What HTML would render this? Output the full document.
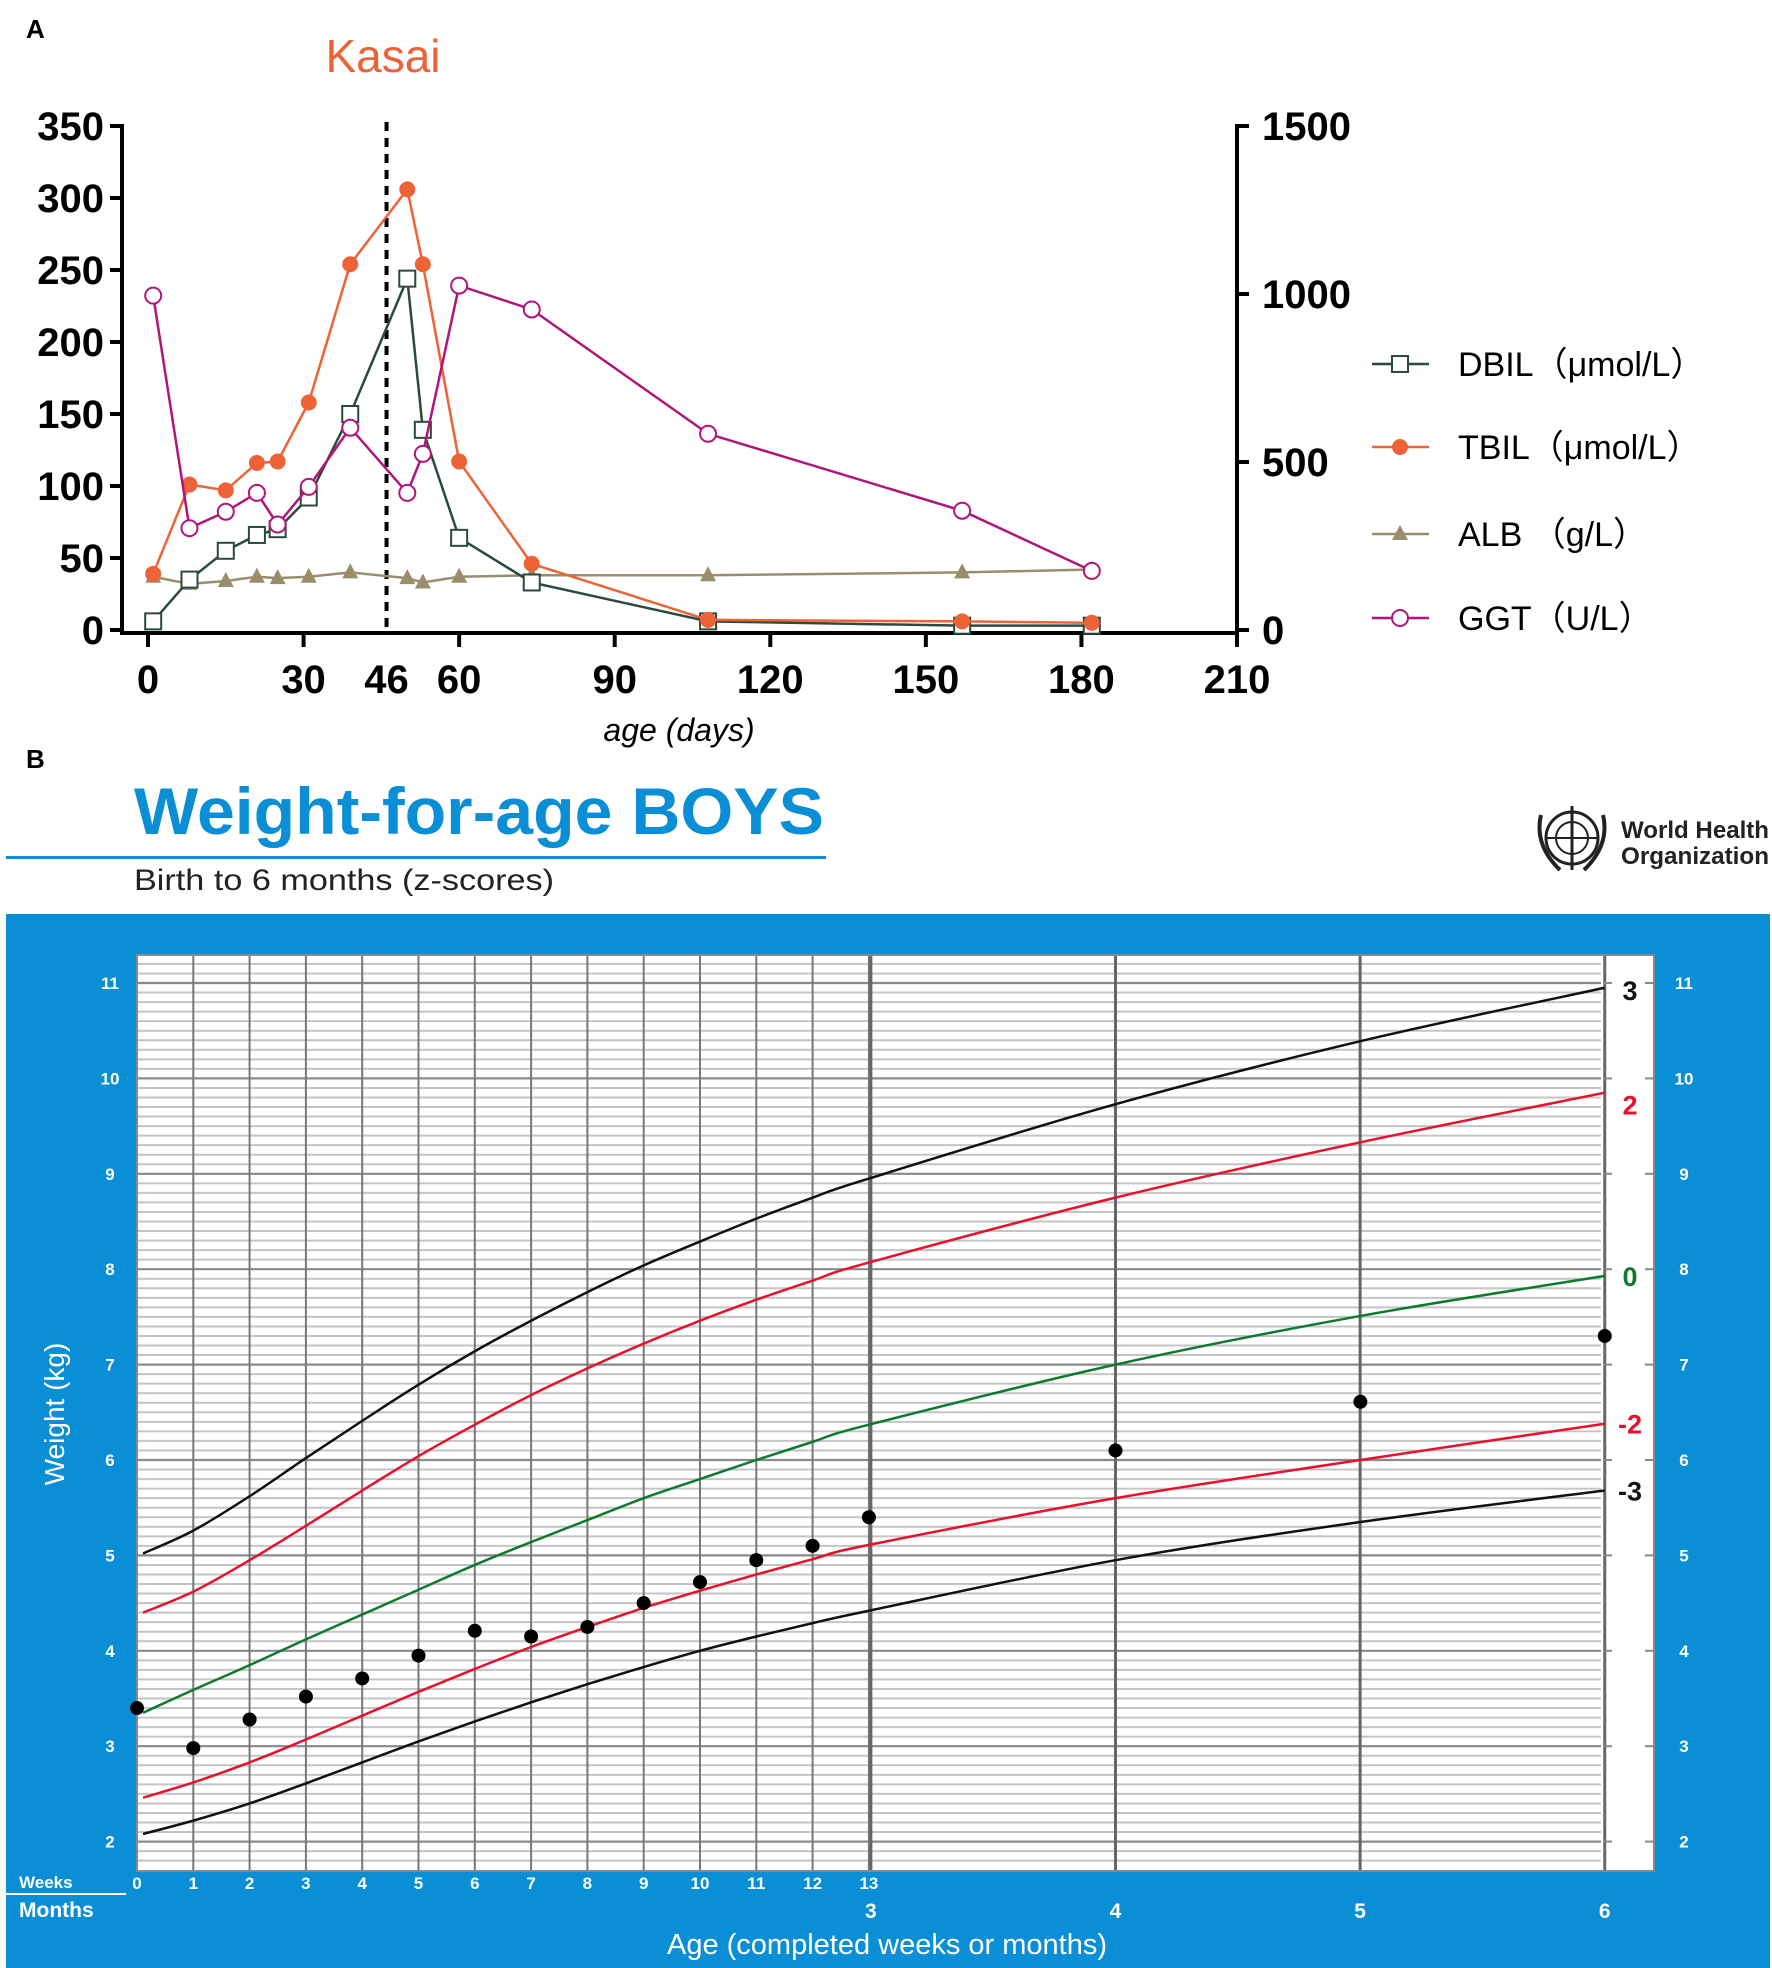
<!DOCTYPE html>
<html><head><meta charset="utf-8">
<style>
html,body{margin:0;padding:0;background:#fff;}
svg{display:block;font-family:"Liberation Sans",Arial,sans-serif;}
</style></head>
<body>
<svg id="root" width="1772" height="1968" viewBox="0 0 1772 1968" xmlns="http://www.w3.org/2000/svg">
<text x="26" y="38" font-size="26" font-weight="bold">A</text>
<text x="383" y="72" font-size="46" fill="#ee6237" text-anchor="middle">Kasai</text>
<g id="chartA"></g>
<text x="679" y="741" font-size="32" font-style="italic" text-anchor="middle">age (days)</text>
<g id="legendA"></g>

<text x="26" y="768" font-size="26" font-weight="bold">B</text>
<text x="134" y="834" font-size="66" font-weight="bold" fill="#0a8fd6" textLength="690" lengthAdjust="spacingAndGlyphs">Weight-for-age BOYS</text>
<rect x="6" y="856" width="820" height="3" fill="#0a8fd6"/>
<text x="134" y="890" font-size="30" fill="#222" textLength="420" lengthAdjust="spacingAndGlyphs">Birth to 6 months (z-scores)</text>
<g>
  <circle cx="1572" cy="838" r="26" fill="none" stroke="#222" stroke-width="3"/>
  <circle cx="1572" cy="838" r="16" fill="none" stroke="#222" stroke-width="2"/>
  <line x1="1546" y1="838" x2="1598" y2="838" stroke="#222" stroke-width="2"/>
  <line x1="1572" y1="806" x2="1572" y2="870" stroke="#222" stroke-width="3"/>
  <path d="M1541 815 Q1534 845 1560 870 M1603 815 Q1610 845 1584 870" fill="none" stroke="#222" stroke-width="4"/>
  <text x="1621" y="838" font-size="24" font-weight="bold" fill="#222" textLength="148" lengthAdjust="spacingAndGlyphs">World Health</text>
  <text x="1621" y="864" font-size="24" font-weight="bold" fill="#222" textLength="148" lengthAdjust="spacingAndGlyphs">Organization</text>
</g>
<rect x="6" y="914" width="1764" height="1054" fill="#0a8fd6"/>
<rect x="137" y="955" width="1517" height="916" fill="#fff"/>
<g id="chartB"></g>
<text transform="translate(64,1414) rotate(-90)" font-size="28" fill="#fff" text-anchor="middle">Weight (kg)</text>
<text x="19" y="1888" font-size="17" font-weight="bold" fill="#fff">Weeks</text>
<rect x="6" y="1893" width="120" height="2" fill="#fff"/>
<text x="19" y="1917" font-size="21" font-weight="bold" fill="#fff">Months</text>
<text x="887" y="1954" font-size="29" fill="#fff" text-anchor="middle">Age (completed weeks or months)</text>
</svg>
<script>
const days = [1,8,15,21,25,31,39,50,53,60,74,108,157,182];
const dbil = [6,35,55,66,70,92,150,244,139,64,33,6,3,3];
const tbil = [39,101,97,116,117,158,254,306,254,117,46,7,6,5];
const alb  = [37,32,34,37,36,37,40,36,33,37,38,38,40,42];
const ggt  = [995,303,352,408,314,426,602,408,524,1025,954,584,355,176];
const leftTicks = [0,50,100,150,200,250,300,350];
const rightTicks = [0,500,1000,1500];
const xTicks = [0,30,60,90,120,150,180,210];
const kasaiDay = 46;

const NS = "http://www.w3.org/2000/svg";
function mk(tag, attrs, parent){ const e=document.createElementNS(NS,tag); for(const k in attrs) e.setAttribute(k,attrs[k]); parent.appendChild(e); return e; }

const xA = d => 148 + d*(1237-148)/210;
const yL = v => 630 - v*(504/350);
const yR = v => 630 - v*(504/1500);
const gA = document.getElementById('chartA');

let ax = mk('line',{x1:122,y1:124,x2:122,y2:635,stroke:'#000','stroke-width':4},gA);
 
ax = mk('line',{x1:1237,y1:124,x2:1237,y2:635,stroke:'#000','stroke-width':4},gA);
 
ax = mk('line',{x1:120,y1:633,x2:1239,y2:633,stroke:'#000','stroke-width':4},gA);
 

leftTicks.forEach(v=>{
  const t=mk('line',{x1:110,y1:yL(v),x2:122,y2:yL(v),stroke:'#000','stroke-width':4},gA);
   
  const l=mk('text',{x:104,y:yL(v)+14,'font-size':40,'font-weight':'bold','text-anchor':'end'},gA);
  l.textContent=v;
   
});
rightTicks.forEach(v=>{
  const t=mk('line',{x1:1237,y1:yR(v),x2:1249,y2:yR(v),stroke:'#000','stroke-width':4},gA);
   
  const l=mk('text',{x:1262,y:yR(v)+14,'font-size':40,'font-weight':'bold'},gA);
  l.textContent=v;
   
});
xTicks.concat([kasaiDay]).forEach(v=>{
  if(v!==kasaiDay){
    const t=mk('line',{x1:xA(v),y1:633,x2:xA(v),y2:647,stroke:'#000','stroke-width':4},gA);
     
  }
  const l=mk('text',{x:xA(v),y:693,'font-size':40,'font-weight':'bold','text-anchor':'middle'},gA);
  l.textContent=v;
   
});
const kl = mk('line',{x1:xA(kasaiDay),y1:122,x2:xA(kasaiDay),y2:633,stroke:'#000','stroke-width':4,'stroke-dasharray':'9,7'},gA);
 

function marker(type,x,y,color,g){
  let e;
  if(type==='square') e=mk('rect',{x:x-8,y:y-8,width:16,height:16,fill:'#fff',stroke:color,'stroke-width':2},g);
  else if(type==='dot') e=mk('circle',{cx:x,cy:y,r:8,fill:color},g);
  else if(type==='tri') e=mk('path',{d:`M${x} ${y-9} L${x+8} ${y+6} L${x-8} ${y+6} Z`,fill:color},g);
  else e=mk('circle',{cx:x,cy:y,r:8,fill:'#fff',stroke:color,'stroke-width':2},g);
  return e;
}
const seriesA = [
  {name:'alb',vals:alb,color:'#998e6c',m:'tri',y:yL},
  {name:'dbil',vals:dbil,color:'#2c4a3c',m:'square',y:yL},
  {name:'tbil',vals:tbil,color:'#ee6237',m:'dot',y:yL},
  {name:'ggt',vals:ggt,color:'#b0157a',m:'ring',y:yR},
];
seriesA.forEach(s=>{
  const g=mk('g',{},gA);
   
  const pts=days.map((d,i)=>xA(d)+','+s.y(s.vals[i])).join(' ');
  const pl=mk('polyline',{points:pts,fill:'none',stroke:s.color,'stroke-width':2.5},g);
   
  days.forEach((d,i)=>{
    const p=marker(s.m,xA(d),s.y(s.vals[i]),s.color,g);
     
  });
});
const legendItems = [
  {label:'DBIL（μmol/L）',color:'#2c4a3c',m:'square',y:364},
  {label:'TBIL（μmol/L）',color:'#ee6237',m:'dot',y:447},
  {label:'ALB （g/L）',color:'#998e6c',m:'tri',y:534},
  {label:'GGT（U/L）',color:'#b0157a',m:'ring',y:618},
];
const gL=document.getElementById('legendA');
legendItems.forEach(it=>{
  const g=mk('g',{},gL);
   
  mk('line',{x1:1372,y1:it.y,x2:1429,y2:it.y,stroke:it.color,'stroke-width':2.5},g);
  marker(it.m,1400,it.y,it.color,g);
  const t=mk('text',{x:1458,y:it.y+12,'font-size':34},g);
  t.textContent=it.label;
});

// ---------- Panel B data ----------
const curveWeeks = [0,1,2,3,4,5,6,7,8,9,10,11,12,13,17.38,21.73,26.07];
const zNeg3 = [2.08,2.22,2.40,2.61,2.83,3.05,3.26,3.46,3.65,3.83,4.00,4.15,4.29,4.42,4.95,5.35,5.68];
const zNeg2 = [2.46,2.62,2.83,3.07,3.32,3.57,3.81,4.04,4.25,4.45,4.63,4.80,4.96,5.11,5.60,6.00,6.38];
const zMed  = [3.35,3.59,3.85,4.12,4.38,4.64,4.90,5.14,5.37,5.60,5.80,6.00,6.19,6.37,7.00,7.51,7.93];
const zPos2 = [4.40,4.62,4.95,5.31,5.68,6.04,6.37,6.68,6.96,7.22,7.46,7.68,7.88,8.07,8.75,9.33,9.85];
const zPos3 = [5.02,5.26,5.62,6.02,6.41,6.79,7.14,7.46,7.76,8.04,8.29,8.53,8.75,8.95,9.73,10.39,10.95];
const patientWeeks = [0,1,2,3,4,5,6,7,8,9,10,11,12,13,17.38,21.73,26.07];
const patientKg = [3.40,2.98,3.28,3.52,3.71,3.95,4.21,4.15,4.25,4.50,4.72,4.95,5.10,5.40,6.10,6.61,7.30];
const kgTicks = [2,3,4,5,6,7,8,9,10,11];
const weekTicks = [0,1,2,3,4,5,6,7,8,9,10,11,12,13];
const monthTicks = [3,4,5,6];
const zLabels = ['3','2','0','-2','-3'];

const xB = w => 137 + w*56.3;
const yB = kg => 983 + (11-kg)*95.4;
const mX = m => xB(m*4.345);
const gB=document.getElementById('chartB');

for(let k=17; k<=113; k++){
  const kg=k/10, y=yB(kg);
  if(y<957||y>1870) continue;
  const major = (k%10===0);
  const l=mk('line',{x1:137,y1:y,x2:1601,y2:y,stroke:major?'#8a8a8a':'#c4c4c4','stroke-width':major?2.2:2},gB);
   
}
weekTicks.forEach(w=>{
  const l=mk('line',{x1:xB(w),y1:955,x2:xB(w),y2:1871,stroke:'#777','stroke-width':2},gB);
   
});
monthTicks.forEach(m=>{
  const l=mk('line',{x1:mX(m),y1:955,x2:mX(m),y2:1871,stroke:'#666','stroke-width':3},gB);
   
});
const fr=mk('rect',{x:137,y:955,width:1517,height:916,fill:'none',stroke:'#888','stroke-width':2},gB);
 

kgTicks.forEach(k=>{
  const a=mk('text',{x:110,y:yB(k)+6,'font-size':17,'font-weight':'bold',fill:'#fff','text-anchor':'middle'},gB);
  a.textContent=k;  
  const b=mk('text',{x:1684,y:yB(k)+6,'font-size':17,'font-weight':'bold',fill:'#fff','text-anchor':'middle'},gB);
  b.textContent=k;  
  const t1=mk('line',{x1:1604,y1:yB(k),x2:1612,y2:yB(k),stroke:'#888','stroke-width':2},gB);
   
  const t2=mk('line',{x1:1645,y1:yB(k),x2:1654,y2:yB(k),stroke:'#888','stroke-width':2},gB);
   
});
weekTicks.forEach(w=>{
  const t=mk('text',{x:xB(w),y:1889,'font-size':17,'font-weight':'bold',fill:'#fff','text-anchor':'middle'},gB);
  t.textContent=w;  
});
monthTicks.forEach(m=>{
  const t=mk('text',{x:mX(m),y:1918,'font-size':21,'font-weight':'bold',fill:'#fff','text-anchor':'middle'},gB);
  t.textContent=m;  
});

const curves=[
  {name:'z-neg3',vals:zNeg3,color:'#111'},
  {name:'z-neg2',vals:zNeg2,color:'#e8112d'},
  {name:'z-median',vals:zMed,color:'#0f7a2e'},
  {name:'z-pos2',vals:zPos2,color:'#e8112d'},
  {name:'z-pos3',vals:zPos3,color:'#111'},
];
function smoothPath(xs,ys){
  let d=`M${xs[0]} ${ys[0]}`;
  for(let i=0;i<xs.length-1;i++){
    const x0=xs[Math.max(i-1,0)],y0=ys[Math.max(i-1,0)];
    const x1=xs[i],y1=ys[i],x2=xs[i+1],y2=ys[i+1];
    const x3=xs[Math.min(i+2,xs.length-1)],y3=ys[Math.min(i+2,xs.length-1)];
    const c1x=x1+(x2-x0)/6,c1y=y1+(y2-y0)/6,c2x=x2-(x3-x1)/6,c2y=y2-(y3-y1)/6;
    d+=` C${c1x} ${c1y} ${c2x} ${c2y} ${x2} ${y2}`;
  }
  return d;
}
curves.forEach(c=>{
  const p=mk('path',{d:smoothPath(curveWeeks.map(w=>xB(w)+6*(w===0)),c.vals.map(yB)),fill:'none',stroke:c.color,'stroke-width':2.5},gB);
   
});
const zColors=['#111','#e8112d','#0f7a2e','#e8112d','#111'];
const zEnds=[zPos3,zPos2,zMed,zNeg2,zNeg3];
const zOff=[2,12,0,0,0];
zLabels.forEach((z,i)=>{
  const v=zEnds[i][zEnds[i].length-1];
  const t=mk('text',{x:1630,y:yB(v)+10+zOff[i],'font-size':27,'font-weight':'bold',fill:zColors[i],'text-anchor':'middle'},gB);
  t.textContent=z;  
});
patientWeeks.forEach((w,i)=>{
  const d=mk('circle',{cx:xB(w),cy:yB(patientKg[i]),r:7,fill:'#000'},gB);
   
});
</script>
</body></html>
